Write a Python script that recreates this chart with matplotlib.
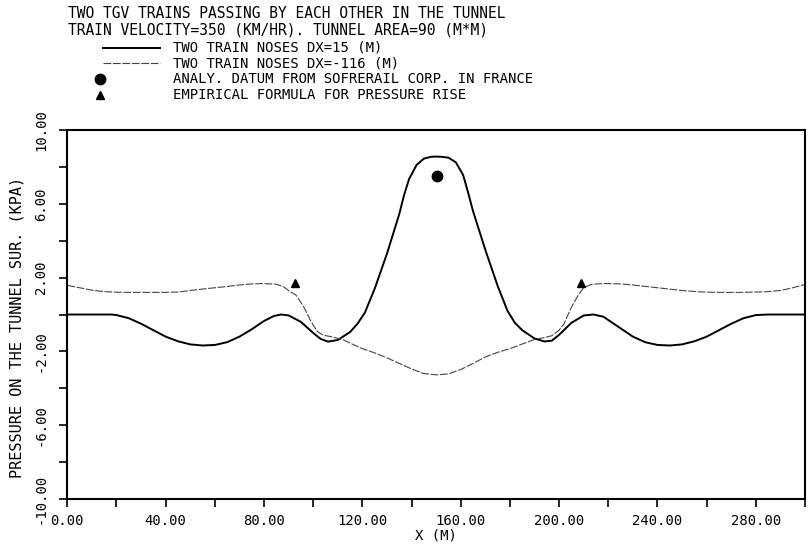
import matplotlib
matplotlib.use("Agg")
import matplotlib.pyplot as plt
from matplotlib.lines import Line2D
from matplotlib.ticker import FixedLocator, FormatStrFormatter

# data
x_dx15 = [0, 5, 10, 15, 18, 20, 25, 30, 35, 40, 45, 50, 55, 60, 65, 70, 75, 80, 84, 87,
          90, 95, 100, 103, 106, 110, 115, 118, 121, 125, 130, 135, 137, 139, 142, 145,
          148, 150, 152, 155, 158, 161, 163, 165, 170, 175, 179, 182, 185, 190, 194, 197,
          200, 205, 210, 214, 218, 220, 225, 230, 235, 240, 245, 250, 255, 260, 265, 270,
          275, 280, 285, 290, 295, 300]
p_dx15 = [0, 0, 0, 0, 0, -0.03, -0.2, -0.5, -0.85, -1.2, -1.45, -1.62, -1.68, -1.65, -1.5,
          -1.2, -0.8, -0.35, -0.08, 0, -0.05, -0.4, -1.0, -1.32, -1.47, -1.38, -0.95,
          -0.5, 0.1, 1.4, 3.3, 5.45, 6.5, 7.35, 8.1, 8.45, 8.55, 8.56, 8.55, 8.5, 8.25,
          7.55, 6.6, 5.6, 3.5, 1.55, 0.2, -0.45, -0.85, -1.3, -1.46, -1.42, -1.1, -0.45,
          -0.05, 0, -0.12, -0.3, -0.75, -1.2, -1.5, -1.65, -1.68, -1.62, -1.45, -1.2,
          -0.85, -0.5, -0.2, -0.03, 0, 0, 0, 0]

x_dx116 = [0, 5, 10, 15, 20, 25, 30, 35, 40, 45, 50, 55, 60, 65, 70, 75, 80, 85, 88, 90,
           93, 96, 99, 101.5, 104, 108, 112, 115, 120, 125, 130, 135, 140, 145, 150, 155,
           160, 165, 170, 175, 180, 185, 190, 194, 197, 200, 202, 205, 208, 210, 213, 218,
           225, 230, 240, 250, 258, 265, 275, 285, 290, 295, 300]
p_dx116 = [1.58, 1.45, 1.32, 1.24, 1.21, 1.2, 1.2, 1.2, 1.2, 1.22, 1.3, 1.38, 1.45, 1.52,
           1.6, 1.66, 1.68, 1.64, 1.5, 1.3, 1.05, 0.45, -0.35, -0.9, -1.12, -1.22, -1.36,
           -1.55, -1.85, -2.08, -2.35, -2.65, -2.95, -3.2, -3.27, -3.22, -2.98, -2.65, -2.3,
           -2.05, -1.85, -1.6, -1.35, -1.25, -1.15, -0.85, -0.5, 0.4, 1.1, 1.45, 1.63, 1.68,
           1.66, 1.6, 1.45, 1.3, 1.22, 1.2, 1.2, 1.24, 1.3, 1.45, 1.63]

x_analy = [150.4]
p_analy = [7.52]
x_empir = [92.6, 208.8]
p_empir = [1.72, 1.72]

title_lines = ["TWO TGV TRAINS PASSING BY EACH OTHER IN THE TUNNEL",
               "TRAIN VELOCITY=350 (KM/HR). TUNNEL AREA=90 (M*M)"]
legend_labels = ["TWO TRAIN NOSES DX=15 (M)",
                 "TWO TRAIN NOSES DX=-116 (M)",
                 "ANALY. DATUM FROM SOFRERAIL CORP. IN FRANCE",
                 "EMPIRICAL FORMULA FOR PRESSURE RISE"]
x_major = [0, 40, 80, 120, 160, 200, 240, 280]
x_minor = [20, 60, 100, 140, 180, 220, 260, 300]
y_major = [10, 6, 2, -2, -6, -10]
y_minor = [8, 4, 0, -4, -8]

mono = "DejaVu Sans Mono"
plt.rcParams["font.family"] = mono

fig = plt.figure(figsize=(8.09, 5.44), dpi=100)
ax = fig.add_axes([0.0832, 0.0827, 0.9119, 0.6783])

solid_style = dict(color="black", lw=1.4)
dash_style = dict(color="#444444", lw=0.8, dashes=(7, 1.5))
dot_style = dict(color="black", marker="o", ms=7.5, ls="none")
tri_style = dict(color="black", marker="^", ms=6, ls="none")

ax.plot(x_dx15, p_dx15, **solid_style)
ax.plot(x_dx116, p_dx116, **dash_style)
ax.plot(x_analy, p_analy, **dot_style)
ax.plot(x_empir, p_empir, **tri_style)

ax.set_xlim(0, 300)
ax.set_ylim(-10, 10)

ax.xaxis.set_major_locator(FixedLocator(x_major))
ax.xaxis.set_minor_locator(FixedLocator(x_minor))
ax.yaxis.set_major_locator(FixedLocator(y_major))
ax.yaxis.set_minor_locator(FixedLocator(y_minor))
ax.xaxis.set_major_formatter(FormatStrFormatter("%.2f"))
ax.yaxis.set_major_formatter(FormatStrFormatter("%.2f"))
ax.tick_params(which="both", direction="out", length=6, width=1.2, labelsize=10)
ax.tick_params(axis="x", pad=5)
ax.tick_params(axis="y", pad=8)
for lab in ax.get_yticklabels():
    lab.set_rotation(90)
    lab.set_va("center")
    lab.set_ha("right")
for sp in ax.spines.values():
    sp.set_linewidth(1.5)

ax.set_xlabel("X (M)", fontsize=10, labelpad=0)
fig.text(17 / 809, 1 - 327 / 544, "PRESSURE ON THE TUNNEL SUR. (KPA)",
         rotation=90, ha="center", va="center", fontsize=11)

# titles
for i, line in enumerate(title_lines):
    fig.text(0.084, 0.9755 - i * 0.0306, line, ha="left", va="center", fontsize=10.5)

# legend drawn by hand above the axes
leg_y = [0.9118, 0.8836, 0.8548, 0.8254]
handles = [solid_style, dash_style, dot_style, tri_style]
for yy, lab, st in zip(leg_y, legend_labels, handles):
    if st.get("marker"):
        fig.add_artist(Line2D([0.1236], [yy], transform=fig.transFigure, **st))
    else:
        fig.add_artist(Line2D([0.1273, 0.1978], [yy, yy], transform=fig.transFigure, **st))
    fig.text(0.2138, yy, lab, ha="left", va="center", fontsize=10)

fig.savefig("out.png", dpi=100)
